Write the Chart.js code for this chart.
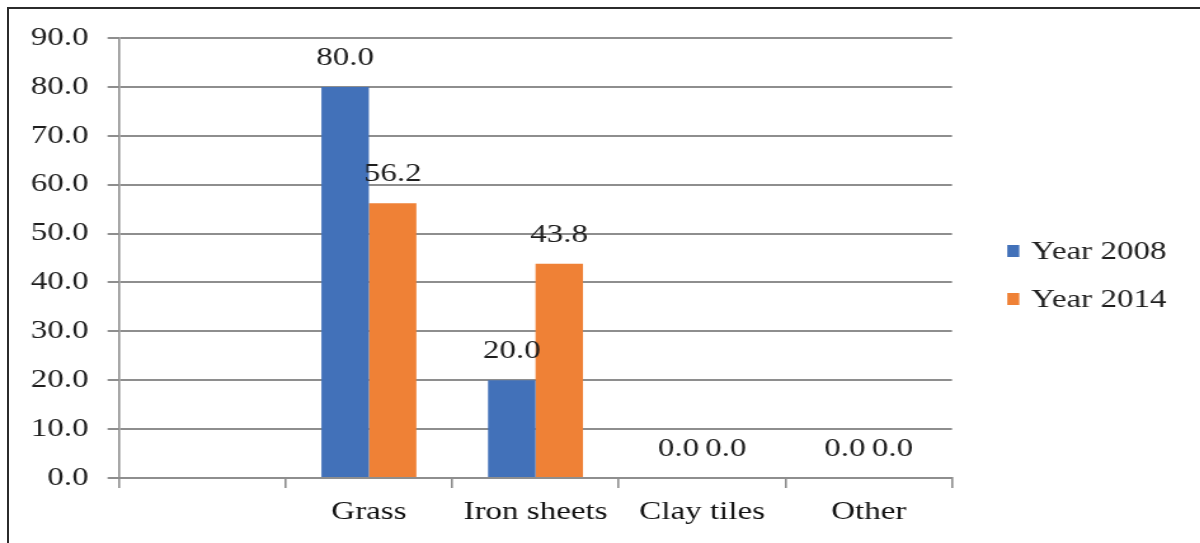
<!DOCTYPE html>
<html>
<head>
<meta charset="utf-8">
<script src="https://cdn.jsdelivr.net/npm/chart.js@4.4.1/dist/chart.umd.min.js"></script>
<style>
    html, body { margin: 0; padding: 0; background: #fff; overflow: hidden; }
    /* the source picture is stretched sideways, so the chart is drawn narrow and widened */
    #stretch { position: absolute; left: 0; top: 0; width: 945px; height: 543px; transform: scaleX(1.27); transform-origin: 0 0; }
    #frame { position: absolute; left: 7px; top: 7px; width: 1193px; height: 536px; box-sizing: border-box;
             border-top: 2px solid #2b2b2b; border-left: 2px solid #2b2b2b; }
</style>
</head>
<body>
<div id="stretch"><canvas id="roofChart" width="945" height="543"></canvas></div>
<div id="frame"></div>
<script>
// 屋顶材料数据
const categories = ['', 'Grass', 'Iron sheets', 'Clay tiles', 'Other'];
const seriesNames = ['Year 2008', 'Year 2014'];
const year2008 = [null, 80.0, 20.0, 0.0, 0.0];
const year2014 = [null, 56.2, 43.8, 0.0, 0.0];
const seriesColors = ['#4271b9', '#ef8136'];

const SERIF = '"Liberation Serif", "Times New Roman", serif';
const TEXT_COLOR = '#1f1f1f';
const GRID_COLOR = '#8e8e8e';

/**
 * 数值标签：柱顶上方
 */
const valueLabels = {
    id: 'valueLabels',
    afterDatasetsDraw(chart) {
        const ctx = chart.ctx;
        ctx.save();
        ctx.font = '26px ' + SERIF;
        ctx.fillStyle = TEXT_COLOR;
        ctx.textAlign = 'center';
        ctx.textBaseline = 'middle';
        chart.data.datasets.forEach((ds, i) => {
            chart.getDatasetMeta(i).data.forEach((bar, j) => {
                const v = ds.data[j];
                if (v === null || v === undefined) return;
                ctx.fillText(v.toFixed(1), bar.x, bar.y - 29);
            });
        });
        ctx.restore();
    }
};

/**
 * 右侧图例
 */
const sideLegend = {
    id: 'sideLegend',
    afterDraw(chart) {
        const ctx = chart.ctx;
        const left = chart.chartArea.right + 43.5;
        const rows = [251, 299];
        ctx.save();
        ctx.font = '26px ' + SERIF;
        ctx.textBaseline = 'middle';
        ctx.textAlign = 'left';
        chart.data.datasets.forEach((ds, i) => {
            const y = rows[i];
            ctx.fillStyle = ds.backgroundColor;
            ctx.fillRect(left, y - 6, 9.5, 12);
            ctx.fillStyle = TEXT_COLOR;
            ctx.fillText(ds.label, left + 19, y + 1);
        });
        ctx.restore();
    }
};

const ctx = document.getElementById('roofChart');

new Chart(ctx, {
    type: 'bar',
    data: {
        labels: categories,
        datasets: [
            { label: seriesNames[0], data: year2008, backgroundColor: seriesColors[0], borderWidth: 0 },
            { label: seriesNames[1], data: year2014, backgroundColor: seriesColors[1], borderWidth: 0 }
        ]
    },
    options: {
        responsive: false,
        animation: false,
        devicePixelRatio: 1,
        layout: {
            padding: { top: 38, right: 195.4, left: 0, bottom: 0 }
        },
        datasets: {
            bar: { categoryPercentage: 0.57, barPercentage: 1.0 }
        },
        plugins: {
            legend: { display: false },
            tooltip: { enabled: false }
        },
        scales: {
            x: {
                ticks: {
                    font: { family: SERIF, size: 26 },
                    color: '#111',
                    padding: 9
                },
                grid: {
                    offset: true,
                    drawOnChartArea: false,
                    drawTicks: true,
                    tickLength: 10,
                    color: GRID_COLOR,
                    lineWidth: 1.6
                },
                border: { display: true, color: GRID_COLOR, width: 2 },
                afterFit(scale) { scale.height = 65; }
            },
            y: {
                min: 0,
                max: 90,
                ticks: {
                    stepSize: 10,
                    font: { family: SERIF, size: 26 },
                    color: TEXT_COLOR,
                    padding: 15,
                    callback: v => Number(v).toFixed(1)
                },
                grid: {
                    color: GRID_COLOR,
                    lineWidth: 2,
                    drawTicks: true,
                    tickLength: 9
                },
                border: { display: true, color: GRID_COLOR, width: 1.6 },
                afterFit(scale) { scale.width = 93.7; }
            }
        }
    },
    plugins: [valueLabels, sideLegend]
});
</script>
</body>
</html>
